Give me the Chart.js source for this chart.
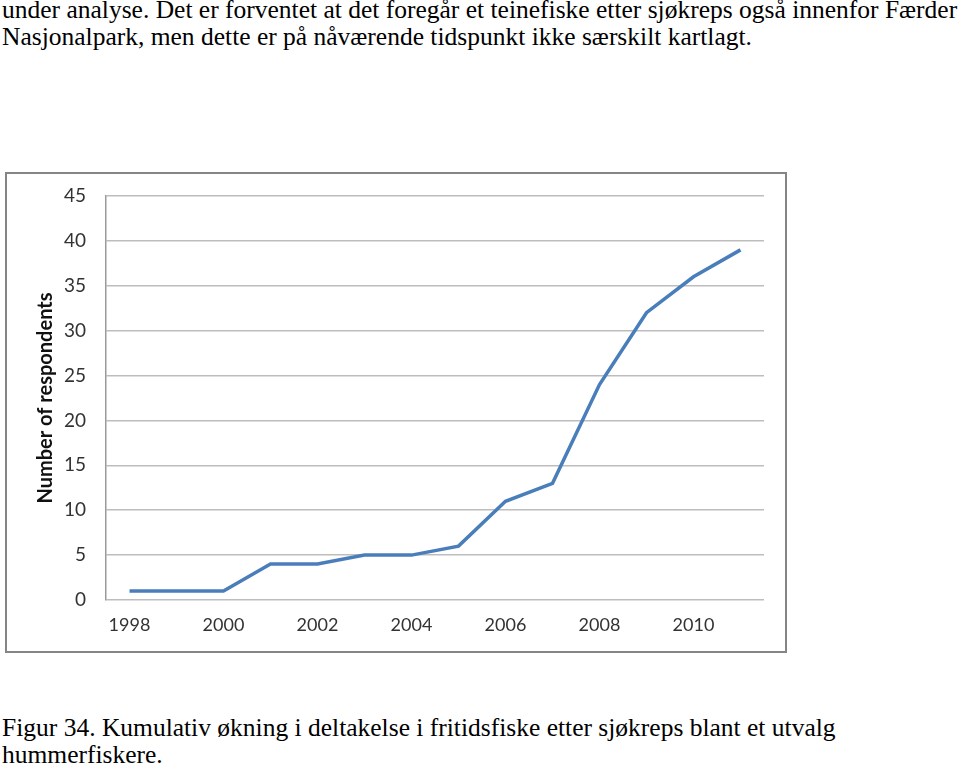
<!DOCTYPE html>
<html>
<head>
<meta charset="utf-8">
<script src="https://cdn.jsdelivr.net/npm/chart.js@4.4.1/dist/chart.umd.min.js"></script>
<style>
  html, body { margin: 0; padding: 0; background: #fff; }
  body { width: 960px; height: 768px; position: relative; overflow: hidden; }
  .txt {
    position: absolute; left: 2px; white-space: nowrap;
    font-family: "Liberation Serif", "Times New Roman", serif;
    font-size: 25.5px; line-height: 27px; color: #000;
  }
  #box {
    position: absolute; left: 5px; top: 172px;
    width: 778px; height: 477px;
    border: 2px solid #858585;
  }
</style>
</head>
<body>
<div class="txt" style="top:-4px">under analyse. Det er forventet at det foregår et teinefiske etter sjøkreps også innenfor Færder<br>Nasjonalpark, men dette er på nåværende tidspunkt ikke særskilt kartlagt.</div>

<div id="box"><canvas id="line-chart"></canvas></div>

<div class="txt" style="top:714px">Figur 34. Kumulativ økning i deltakelse i fritidsfiske etter sjøkreps blant et utvalg<br>hummerfiskere.</div>

<script>
// Data
var years = ["1998", "1999", "2000", "2001", "2002", "2003", "2004",
             "2005", "2006", "2007", "2008", "2009", "2010", "2011"];
var respondents = [1, 1, 1, 4, 4, 5, 5, 6, 11, 13, 24, 32, 36, 39];
var yMax = 45;
var yStep = 5;
var yTitle = "Number of respondents";

document.addEventListener("DOMContentLoaded", function() {
  var ctx = document.getElementById("line-chart").getContext("2d");

  new Chart(ctx, {
    type: "line",
    data: {
      labels: years,
      datasets: [
        {
          data: respondents,
          fill: false,
          borderColor: "#4a7ebb",
          borderWidth: 3.5,
          pointRadius: 0,
          tension: 0,
        },
      ],
    },
    options: {
      responsive: true,
      maintainAspectRatio: false,
      animation: false,
      layout: {
        padding: { top: 22, right: 21, bottom: 0, left: 0 },
      },
      plugins: {
        legend: { display: false },
        tooltip: { enabled: false },
      },
      scales: {
        x: {
          offset: true,
          grid: { display: false, drawTicks: false },
          border: { display: false },
          ticks: {
            autoSkip: false,
            maxRotation: 0,
            padding: 14,
            color: "#333",
            font: { family: "Lato", size: 18 },
            callback: function(value, index) {
              return index % 2 === 0 ? years[index] : "";
            },
          },
          afterFit: function(scale) { scale.height = 51; },
        },
        y: {
          min: 0,
          max: yMax,
          // invisible tick marks give the label gap without padding the top
          grid: {
            color: "#bdbdbd",
            lineWidth: 1.5,
            drawTicks: true,
            tickLength: 20,
            tickColor: "rgba(0,0,0,0)",
          },
          border: { display: true, color: "#9a9a9a", width: 1.5 },
          ticks: {
            stepSize: yStep,
            padding: 0,
            color: "#333",
            font: { family: "Lato", size: 19 },
          },
          title: {
            display: true,
            text: yTitle,
            color: "#111",
            font: { family: "Lato", size: 20, weight: "bold" },
            padding: { top: 27, bottom: 0 },
          },
          afterFit: function(scale) { scale.width = 99; },
        },
      },
    },
  });
});
</script>
</body>
</html>
